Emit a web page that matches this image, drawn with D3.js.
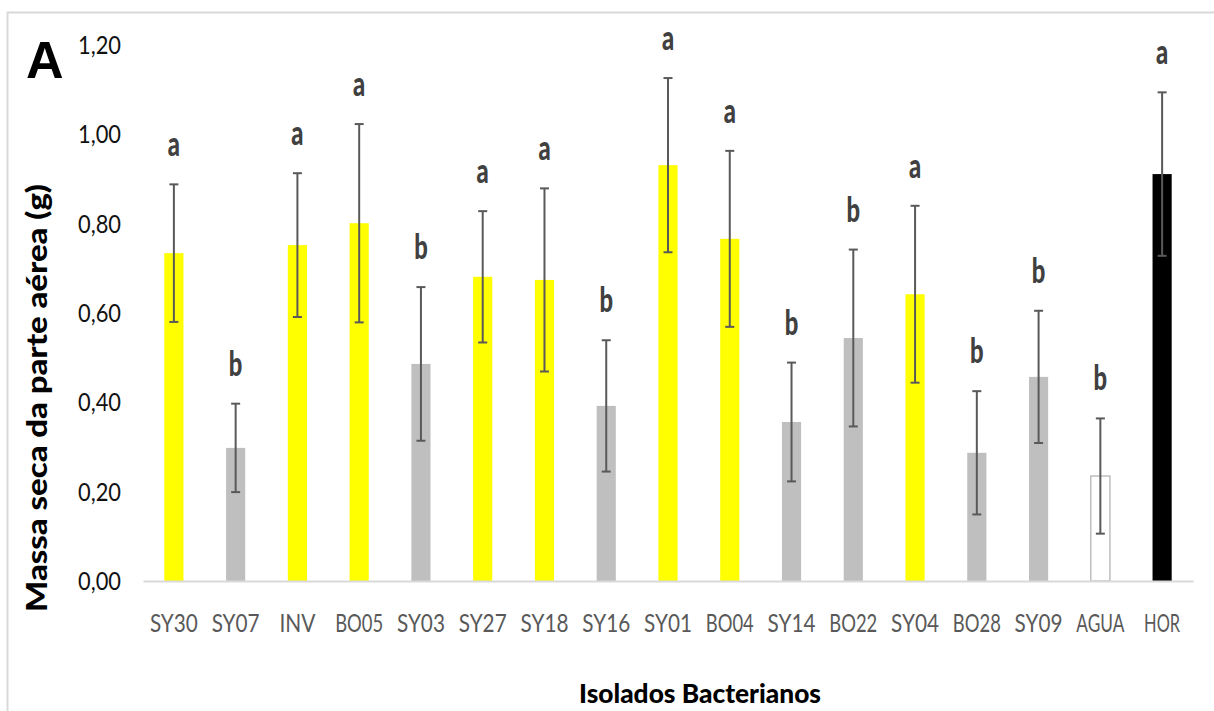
<!DOCTYPE html>
<html>
<head>
<meta charset="utf-8">
<script src="https://cdn.jsdelivr.net/npm/d3@7"></script>
<style>
  html, body { margin: 0; padding: 0; background: #fff; }
  svg { display: block; }
</style>
</head>
<body>
<svg id="chart" width="1214" height="711"></svg>
<script>
// Dry shoot mass per treatment (g), mean ± standard deviation
const categories = ["SY30", "SY07", "INV", "BO05", "SY03", "SY27", "SY18", "SY16", "SY01",
                    "BO04", "SY14", "BO22", "SY04", "BO28", "SY09", "AGUA", "HOR"];
const means = [0.734, 0.298, 0.752, 0.801, 0.486, 0.681, 0.674, 0.392, 0.931,
               0.766, 0.356, 0.544, 0.642, 0.287, 0.457, 0.235, 0.911];
const sd = [0.154, 0.099, 0.161, 0.222, 0.172, 0.147, 0.205, 0.147, 0.195,
            0.197, 0.133, 0.198, 0.198, 0.138, 0.148, 0.129, 0.183];
// Statistical grouping letters
const groups = ["a", "b", "a", "a", "b", "a", "a", "b", "a",
                "a", "b", "b", "a", "b", "b", "b", "a"];
// Treatment type: bacterial isolate, water control, hormone control
const kinds = ["iso", "iso", "iso", "iso", "iso", "iso", "iso", "iso", "iso",
               "iso", "iso", "iso", "iso", "iso", "iso", "agua", "hor"];
const yTicks = [0, 0.2, 0.4, 0.6, 0.8, 1.0, 1.2];

const svg = d3.select("#chart");
const fmt = v => d3.format(".2f")(v).replace(".", ",");

// outer frame
svg.append("rect")
  .attr("x", 7.5).attr("y", 12.5)
  .attr("width", 1300).attr("height", 800)
  .attr("fill", "none").attr("stroke", "#d9d9d9").attr("stroke-width", 2);

const x = d3.scaleBand().domain(categories).range([143, 1193])
  .paddingInner(0.69).paddingOuter(0.345);
const y = d3.scaleLinear().domain([0, 1.2]).range([581, 45]);

const data = categories.map((c, i) => ({
  cat: c, mean: means[i], sd: sd[i], group: groups[i], kind: kinds[i]
}));

function fillOf(d) {
  if (d.kind === "hor") return "#000000";
  if (d.kind === "agua") return "#ffffff";
  return d.group === "a" ? "#ffff00" : "#bfbfbf";
}

// y tick labels (no axis line, no ticks)
const yAxis = d3.axisLeft(y).tickValues(yTicks).tickFormat(fmt).tickSize(0).tickPadding(0);
const gy = svg.append("g").attr("transform", "translate(121,0)").call(yAxis);
gy.select(".domain").remove();
gy.selectAll("text")
  .attr("font-family", "Lato, 'Open Sans', sans-serif")
  .attr("font-size", 25)
  .attr("fill", "#111")
  .attr("dy", "0.34em")
  .attr("textLength", 43)
  .attr("lengthAdjust", "spacingAndGlyphs");

// bars
svg.append("g").selectAll("rect").data(data).join("rect")
  .attr("x", d => x(d.cat))
  .attr("width", x.bandwidth())
  .attr("y", d => y(d.mean))
  .attr("height", d => y(0) - y(d.mean))
  .attr("fill", fillOf)
  .attr("stroke", d => d.kind === "agua" ? "#bfbfbf" : "none")
  .attr("stroke-width", 1.5);

// baseline (category axis)
const xAxis = d3.axisBottom(x).tickSize(0).tickPadding(0);
const gx = svg.append("g").attr("transform", `translate(0,${y(0)})`).call(xAxis);
gx.select(".domain").attr("stroke", "#d9d9d9").attr("stroke-width", 2);
gx.selectAll("text")
  .attr("font-family", "Lato, 'Open Sans', sans-serif")
  .attr("font-size", 25)
  .attr("fill", "#595959")
  .attr("dy", 0)
  .attr("y", 51)
  .attr("textLength", d => d.length * 12)
  .attr("lengthAdjust", "spacingAndGlyphs");

// error bars
const eb = svg.append("g").attr("stroke", "#595959").attr("stroke-width", 2);
data.forEach(d => {
  const cx = x(d.cat) + x.bandwidth() / 2;
  const hi = y(d.mean + d.sd), lo = y(d.mean - d.sd);
  eb.append("line").attr("x1", cx).attr("x2", cx).attr("y1", hi).attr("y2", lo);
  eb.append("line").attr("x1", cx - 4.5).attr("x2", cx + 4.5).attr("y1", hi).attr("y2", hi);
  eb.append("line").attr("x1", cx - 4.5).attr("x2", cx + 4.5).attr("y1", lo).attr("y2", lo);
});

// group letters above the error bars
svg.append("g").selectAll("text").data(data).join("text")
  .attr("transform", d => `translate(${x(d.cat) + x.bandwidth() / 2},${y(d.mean + d.sd) - 28}) scale(0.68,1)`)
  .attr("text-anchor", "middle")
  .attr("font-family", "Lato, sans-serif")
  .attr("font-weight", 900)
  .attr("font-size", 35)
  .attr("fill", "#404040")
  .text(d => d.group);

// axis titles
svg.append("text")
  .attr("transform", "translate(47,398) rotate(-90)")
  .attr("text-anchor", "middle")
  .attr("font-family", "Lato, sans-serif")
  .attr("font-weight", 900)
  .attr("font-size", 29)
  .attr("fill", "#000")
  .attr("textLength", 428)
  .attr("lengthAdjust", "spacingAndGlyphs")
  .text("Massa seca da parte aérea (g)");

svg.append("text")
  .attr("x", 700).attr("y", 703)
  .attr("text-anchor", "middle")
  .attr("font-family", "Lato, sans-serif")
  .attr("font-weight", 900)
  .attr("font-size", 26)
  .attr("fill", "#000")
  .attr("textLength", 242)
  .attr("lengthAdjust", "spacingAndGlyphs")
  .text("Isolados Bacterianos");

// panel letter
svg.append("text")
  .attr("x", 26).attr("y", 78)
  .attr("font-family", "'Liberation Sans', Arial, sans-serif")
  .attr("font-weight", "bold")
  .attr("font-size", 52)
  .attr("fill", "#000")
  .text("A");
</script>
</body>
</html>
